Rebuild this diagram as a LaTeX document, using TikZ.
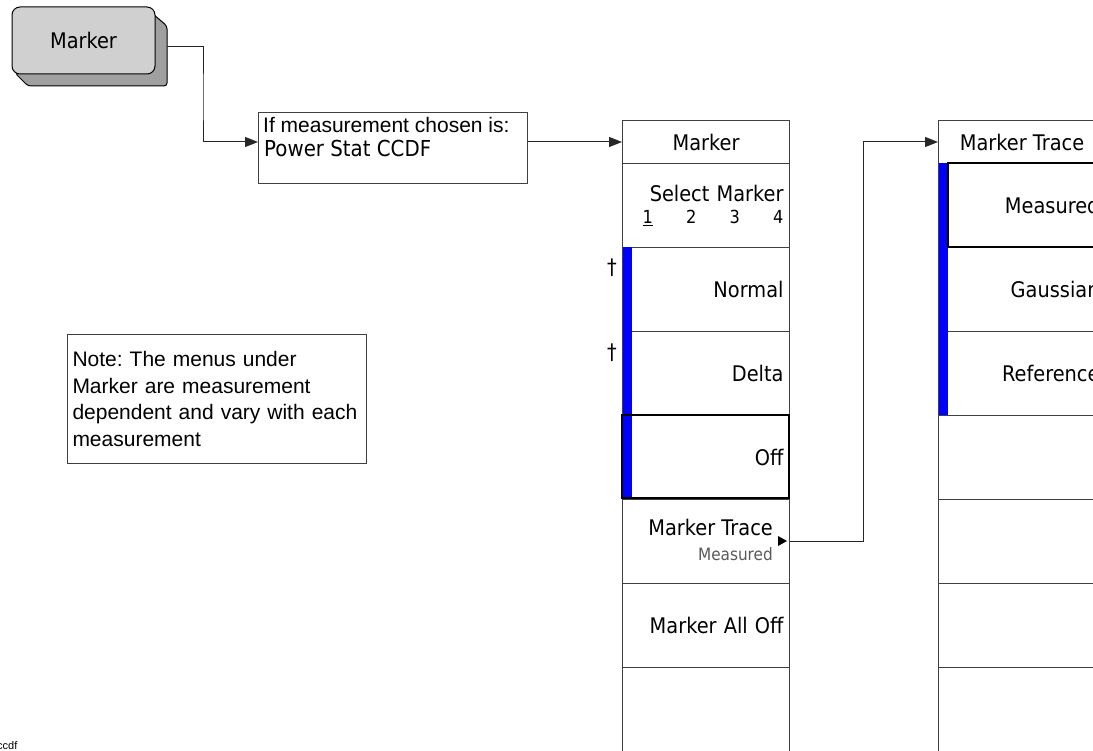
\documentclass[tikz,border=0pt]{standalone}
\usepackage{fontspec}
\setmainfont{Liberation Sans}
\newfontfamily\menufont[FakeStretch=0.9]{DejaVu Sans}
\usetikzlibrary{arrows.meta,calc}
\definecolor{btnface}{HTML}{D0D0D0}
\definecolor{btnshadow}{HTML}{A0A0A0}
\definecolor{softkey}{HTML}{0000FF}
\definecolor{subgray}{HTML}{5A5A5A}
\definecolor{edge}{HTML}{404040}
\frenchspacing
\begin{document}
\begin{tikzpicture}[x=1pt,y=-1pt,
  mfont/.style={font=\menufont\fontsize{21.5}{23}\selectfont},
  sfont/.style={font=\menufont\fontsize{17}{19}\selectfont},
  keyrow/.style={draw=edge, line width=1pt, anchor=north west, minimum width=167pt,
    minimum height=84pt, inner xsep=6pt, inner ysep=0pt, text width=155pt, align=right, mfont},
  titlerow/.style={draw=edge, line width=1pt, anchor=north west, minimum width=167pt,
    minimum height=43pt, inner sep=0pt, mfont},
  conn/.style={draw=black!85, line width=1pt},
  arr/.style={conn, -{Triangle[length=13pt,width=10pt]}},
  selbox/.style={draw=black, line width=2.5pt},
  bar/.style={fill=softkey},
  plain/.style={inner sep=0pt},
]
\clip (0,0) rectangle (1093,751);
\fill[white] (0,0) rectangle (1093,751);

% hard key button
\filldraw[fill=btnshadow, draw=black, line width=1pt, rounded corners=3pt]
  (146,8) -- (167,26) -- (167,86) -- (28,86) -- (15,73) -- cycle;
\node[draw=black, line width=1pt, fill=btnface, rounded corners=8pt, minimum width=143pt,
  minimum height=67pt, inner sep=0pt, mfont] (btn) at (83.5,40.5) {Marker};
\coordinate (btnout) at (167,47);

% condition box
\node[draw=edge, line width=1pt, anchor=north west, minimum width=269pt, minimum height=71pt,
  inner sep=0pt] (cond) at (258,112) {};
\node[plain, anchor=base west, font=\fontsize{21}{23}\selectfont] (condl1) at (263,133)
  {If measurement chosen is:};
\node[plain, anchor=base west, font=\menufont\fontsize{22}{24}\selectfont] (condl2) at (264,157) {Power Stat CCDF};

% note box
\node[draw=edge, line width=1pt, anchor=north west, minimum width=299pt, minimum height=129pt,
  inner xsep=5pt, text width=289pt, align=left, font=\fontsize{21}{26.7}\selectfont]
  (note) at (67,334)
  {Note: The menus under\\Marker are measurement\\dependent and vary with each\\measurement};

% Marker menu
\node[titlerow] (mt) at (622,120) {Marker};
\node[keyrow] (m1) at (622,163) {Select Marker\\[-1pt]{\fontsize{18}{19}\selectfont\makebox[141pt]{\underline{1}\hfill 2\hfill 3\hfill 4}}};
\node[keyrow] (m2) at (622,247) {Normal};
\node[keyrow] (m3) at (622,331) {Delta};
\node[keyrow] (m4) at (622,415) {Off};
\node[keyrow] (m5) at (622,499) {};
\node[keyrow] (m6) at (622,583) {Marker All Off};
\node[keyrow] (m7) at (622,667) {};
\node[plain, anchor=base east, mfont] (m5a) at (773,535) {Marker Trace};
\node[plain, anchor=base east, sfont, text=subgray] (m5b) at (773,560) {Measured};
\fill[black] (778,536) -- (787,541) -- (778,546) -- cycle;
\fill[bar] (622.5,247) rectangle (632,498);
\draw[selbox] (622,415) rectangle (789,498);
\node[plain, mfont] (dag1) at (612,268) {†};
\node[plain, mfont] (dag2) at (612,353) {†};

% Marker Trace menu
\node[titlerow] (tt) at (938,120) {Marker Trace};
\node[keyrow] (t1) at (938,163) {Measured};
\node[keyrow] (t2) at (938,247) {Gaussian};
\node[keyrow] (t3) at (938,331) {Reference};
\node[keyrow] (t4) at (938,415) {};
\node[keyrow] (t5) at (938,499) {};
\node[keyrow] (t6) at (938,583) {};
\node[keyrow] (t7) at (938,667) {};
\fill[bar] (938.5,163) rectangle (948,415);
\draw[selbox] (948,163) rectangle (1105,247);

% connectors
\draw[arr] (btnout) -| (203,100) |- (cond.west |- mt.west);
\draw[arr] (cond.east |- mt.west) -- (mt.west);
\draw[arr] (m5.east) -- ++(73,0) |- (tt.west);

% file label
\node[plain, anchor=base west, font=\fontsize{11}{13}\selectfont] (fname) at (-3,749) {ccdf};
\end{tikzpicture}
\end{document}
